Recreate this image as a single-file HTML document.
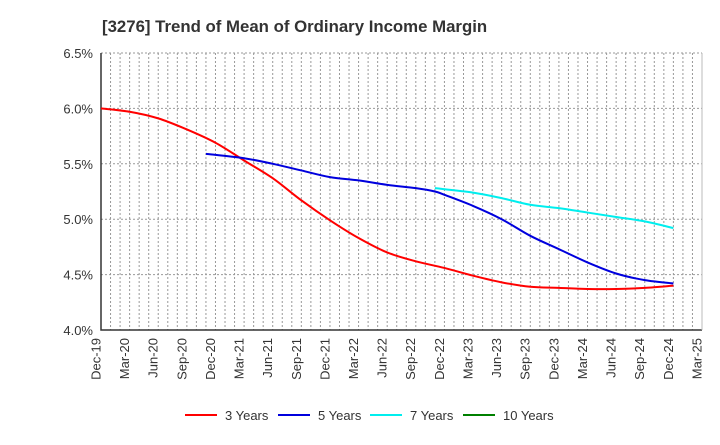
<!DOCTYPE html>
<html><head><meta charset="utf-8"><style>
body{margin:0;background:#fff;}
svg text{font-family:"Liberation Sans",sans-serif;}
</style></head><body>
<svg id="chart" width="720" height="440" xmlns="http://www.w3.org/2000/svg">
<rect width="720" height="440" fill="#fff"/>
<text x="102" y="32" font-size="16.8" font-weight="bold" fill="#333">[3276]  Trend of Mean of Ordinary Income Margin</text>
<g id="grid"></g>
<g id="axes"></g>
<g id="series"></g>
<g id="legend"></g>
</svg>
<script>
const xLabels=["Dec-19","Mar-20","Jun-20","Sep-20","Dec-20","Mar-21","Jun-21","Sep-21","Dec-21","Mar-22","Jun-22","Sep-22","Dec-22","Mar-23","Jun-23","Sep-23","Dec-23","Mar-24","Jun-24","Sep-24","Dec-24","Mar-25"];
const yTicks=[4.0,4.5,5.0,5.5,6.0,6.5];
const y3Months=[0,3,6,9,12,15,18,21,24,27,30,33,36,39,42,45,48,51,54,57,60];
const y3Values=[6.00,5.97,5.91,5.81,5.69,5.53,5.37,5.17,4.99,4.83,4.70,4.62,4.56,4.49,4.43,4.39,4.38,4.37,4.37,4.38,4.40];
const y5Months=[11,15,18,21,24,27,30,33,35,36,39,42,45,48,51,54,57,60];
const y5Values=[5.59,5.55,5.50,5.44,5.38,5.35,5.31,5.28,5.25,5.22,5.12,5.00,4.85,4.73,4.61,4.51,4.45,4.42];
const y7Months=[35,39,42,45,48,51,54,57,60];
const y7Values=[5.28,5.24,5.19,5.13,5.10,5.06,5.02,4.98,4.92];
const y10Months=[];
const y10Values=[];

const L=101,R=702,T=53,B=330,NS="http://www.w3.org/2000/svg";
const xS=m=>L+m*(R-L)/63;
const yS=v=>B-(v-4.0)*(B-T)/2.5;
function mk(tag,attrs,parent){const e=document.createElementNS(NS,tag);for(const k in attrs)e.setAttribute(k,attrs[k]);parent.appendChild(e);return e;}
const grid=document.getElementById('grid'),axes=document.getElementById('axes'),series=document.getElementById('series'),legend=document.getElementById('legend');
for(let m=1;m<63;m++){const l=mk('line',{x1:xS(m),x2:xS(m),y1:T,y2:B,stroke:'#999','stroke-width':1,'stroke-dasharray':'2,2'},grid);

}
yTicks.forEach(v=>{if(v>4.0){const l=mk('line',{x1:L,x2:R,y1:yS(v),y2:yS(v),stroke:'#999','stroke-width':1,'stroke-dasharray':'2,2'},grid);

}
const t=mk('text',{x:L-8,y:yS(v)+5,'text-anchor':'end','font-size':13,fill:'#333'},axes);t.textContent=v.toFixed(1)+'%';

});
const ax=mk('path',{d:`M${L},${T}V${B}H${R}`,fill:'none',stroke:'#333','stroke-width':1.5},axes);


mk('line',{x1:R,x2:R,y1:T,y2:B,stroke:'#bbb','stroke-width':1},axes);
xLabels.forEach((s,i)=>{const x=xS(i*3)-4,y=B+8;const t=mk('text',{x:x,y:y,transform:`rotate(-90 ${x} ${y})`,'text-anchor':'end','font-size':13,fill:'#333','dominant-baseline':'middle'},axes);t.textContent=s;

});
function smooth(pts){if(!pts.length)return'';let d=`M${pts[0][0]},${pts[0][1]}`;for(let i=0;i<pts.length-1;i++){const p0=pts[i-1]||pts[i],p1=pts[i],p2=pts[i+1],p3=pts[i+2]||p2;
d+=` C${p1[0]+(p2[0]-p0[0])/6},${p1[1]+(p2[1]-p0[1])/6} ${p2[0]-(p3[0]-p1[0])/6},${p2[1]-(p3[1]-p1[1])/6} ${p2[0]},${p2[1]}`;}return d;}
const defs=[[y3Months,y3Values,'#ff0000','3 Years','line-3-years'],[y5Months,y5Values,'#0000dd','5 Years','line-5-years'],[y7Months,y7Values,'#00eeee','7 Years','line-7-years'],[y10Months,y10Values,'#008000','10 Years','line-10-years']];
defs.forEach(([ms,vs,c,n,id],k)=>{const p=mk('path',{d:smooth(ms.map((m,i)=>[xS(m),yS(vs[i])])),fill:'none',stroke:c,'stroke-width':2},series);


const lx=[185,278,370,463][k];
const g=mk('g',{},legend);


mk('line',{x1:lx,x2:lx+32,y1:415,y2:415,stroke:c,'stroke-width':2},g);
const t=mk('text',{x:lx+40,y:420,'font-size':13,fill:'#333'},g);t.textContent=n;});
</script>
</body></html>
